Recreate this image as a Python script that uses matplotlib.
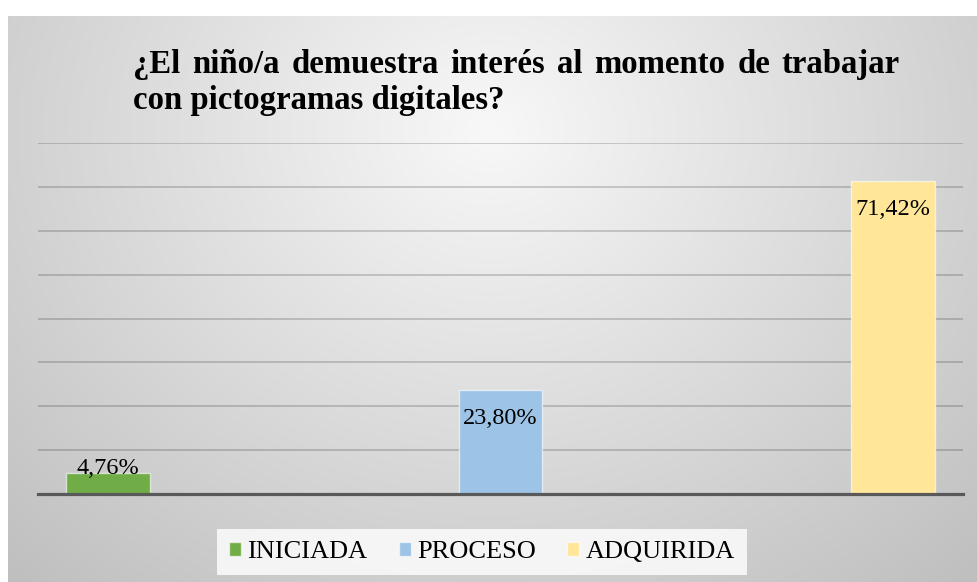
import numpy as np
import matplotlib.pyplot as plt
from matplotlib.patches import Patch

W, H = 977, 582
DPI = 100

title_line1 = "¿El niño/a demuestra interés al momento de trabajar"
title_line2 = "con pictogramas digitales?"
series = ["INICIADA", "PROCESO", "ADQUIRIDA"]
values = [0.0476, 0.2380, 0.7142]
labels = ["4,76%", "23,80%", "71,42%"]
colors = ["#70ad47", "#9dc3e6", "#ffe699"]

plt.rcParams["font.family"] = ["Liberation Serif", "DejaVu Serif"]

fig = plt.figure(figsize=(W / DPI, H / DPI), dpi=DPI)
fig.patch.set_facecolor("white")

# ---------- radial gradient background of the chart area ----------
x0, y0 = 8, 16
bg = fig.add_axes([x0 / W, 0, (W - x0) / W, (H - y0) / H], zorder=0)
xx, yy = np.meshgrid(np.arange(x0, W), np.arange(y0, H))
d = np.sqrt(((xx - 490) / 720) ** 2 + ((yy - 130) / 620) ** 2)
d = np.clip(d, 0, 1)
g = (248 - d * 58) / 255
bg.imshow(np.dstack([g, g, g]), aspect="auto", interpolation="bilinear")
bg.axis("off")

# ---------- plot area ----------
L, R, T, B = 38, 963, 143, 494
ax = fig.add_axes([L / W, 1 - B / H, (R - L) / W, (B - T) / H], zorder=1)
ax.patch.set_alpha(0)
x = np.arange(len(series))
ax.bar(x, values, width=0.212, color=colors, edgecolor=(1, 1, 1, 0.6),
       linewidth=1, zorder=3)
ax.set_xlim(-0.178, 2.178)
ax.set_ylim(0, 0.8)
ax.set_yticks(np.arange(0, 0.81, 0.1))
ax.yaxis.grid(True, color="black", alpha=0.2, linewidth=1.2, zorder=0)
ax.tick_params(left=False, bottom=False, labelleft=False, labelbottom=False)
for s in ax.spines.values():
    s.set_visible(False)
ax.axhline(0, color="#595959", linewidth=2.3, zorder=4, clip_on=False)

for xi, v, lab in zip(x, values, labels):
    off = -29 if v > 0.1 else 5
    ax.annotate(lab, (xi, v), xytext=(0, off), textcoords="offset pixels",
                ha="center", va="center", fontsize=17.5, color="black", zorder=5)

# ---------- justified title ----------
fig.canvas.draw()
r = fig.canvas.get_renderer()
tx0, tx1 = 133, 900
fs_t = 23.6
words = title_line1.split(" ")
tmp = [fig.text(0, 0, w, fontsize=fs_t, fontweight="bold") for w in words]
widths = [t.get_window_extent(r).width for t in tmp]
for t in tmp:
    t.remove()
gap = (tx1 - tx0 - sum(widths)) / (len(words) - 1)
cx = tx0
for w, wd in zip(words, widths):
    fig.text(cx / W, 1 - 73 / H, w, fontsize=fs_t, fontweight="bold",
             va="baseline", ha="left")
    cx += wd + gap
fig.text(tx0 / W, 1 - 109 / H, title_line2, fontsize=fs_t, fontweight="bold",
         va="baseline", ha="left")

# ---------- legend ----------
handles = [Patch(facecolor=c, edgecolor=(1, 1, 1, 0.6)) for c in colors]
leg = fig.legend(handles, series, loc="center",
                 bbox_to_anchor=(482 / W, 1 - 552 / H), ncol=3, fontsize=19,
                 handlelength=0.45, handleheight=0.45, handletextpad=0.23,
                 columnspacing=1.2, borderpad=0.45, borderaxespad=0,
                 frameon=True, fancybox=False)
leg.get_frame().set_facecolor((1, 1, 1, 0.4))
leg.get_frame().set_edgecolor("none")

fig.savefig("out.png", dpi=DPI)
